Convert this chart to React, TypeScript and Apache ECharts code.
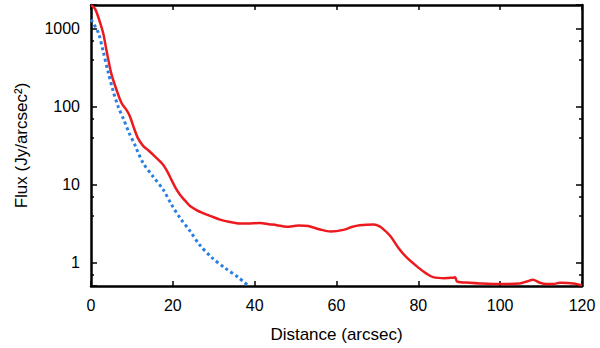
import React, { useEffect, useRef } from "react";
import * as echarts from "echarts";

const xTicks = [0, 20, 40, 60, 80, 100, 120];
const yDecadeLabels = [1, 10, 100, 1000];

const observedX = [0, 1, 2.2, 3, 3.8, 5, 6.3, 7.5, 8.7, 9.5, 10.5, 11.5, 12.8, 14, 15.6, 17, 17.7, 18.7, 19.7, 20.7, 21.75, 23, 24.2, 25.8, 27.4, 29.5, 31.5, 34, 36.4, 38.5, 41.3, 43.5, 45.4, 47.8, 50.7, 53.1, 56, 58.6, 61.7, 63.7, 65.7, 69, 70, 71, 73.1, 75.1, 77.15, 80, 82, 83.6, 86.5, 88.5, 89, 89.5, 92.6, 95, 100, 104.8, 106.5, 108, 109.7, 111.4, 113, 114.6, 117.9, 120];
const observedY = [2000, 1780, 1200, 860, 520, 260, 160, 110, 90, 75, 53, 39, 31, 27.5, 23, 19.5, 17.7, 14.5, 11.4, 9, 7.4, 6.2, 5.3, 4.7, 4.3, 3.9, 3.55, 3.3, 3.16, 3.17, 3.22, 3.1, 3.01, 2.87, 2.98, 2.93, 2.65, 2.5, 2.62, 2.85, 3.0, 3.07, 3.0, 2.8, 2.2, 1.55, 1.16, 0.86, 0.72, 0.65, 0.63, 0.64, 0.645, 0.57, 0.55, 0.54, 0.53, 0.54, 0.57, 0.6, 0.55, 0.53, 0.53, 0.55, 0.54, 0.51];

const psfX = [0, 1.8, 3, 4.2, 5.45, 6.7, 7.9, 9.3, 10.75, 11.2, 12.8, 15.2, 17.7, 19.7, 21.75, 24.2, 26.6, 29.5, 32.75, 36, 38.5];
const psfY = [1300, 880, 500, 275, 155, 98, 70, 46, 32, 28, 18.6, 12.6, 8.5, 5.5, 3.73, 2.53, 1.67, 1.16, 0.85, 0.645, 0.5];

const FONT = "'Liberation Sans', Arial, Helvetica, sans-serif";

export default function App() {
  const ref = useRef<HTMLDivElement>(null);
  useEffect(() => {
    if (!ref.current) return;
    const chart = echarts.init(ref.current, undefined, { renderer: "svg" });
    const axisLine = { show: true, onZero: false, lineStyle: { color: "#000", width: 2.5 } };
    const tickStyle = { color: "#000", width: 1.5 };
    const yLabelFmt = (v: number) => {
      const match = yDecadeLabels.find((d) => Math.abs(d - v) / d < 1e-6);
      return match !== undefined ? String(match) : "";
    };
    chart.setOption({
      animation: false,
      backgroundColor: "#fff",
      grid: { left: 91, right: 18, top: 5, bottom: 59, containLabel: false },
      xAxis: [
        {
          type: "value",
          min: xTicks[0],
          max: xTicks[xTicks.length - 1],
          interval: 20,
          position: "bottom",
          name: "Distance (arcsec)",
          nameLocation: "middle",
          nameGap: 40,
          nameTextStyle: { fontFamily: FONT, fontSize: 17, color: "#000" },
          axisLine,
          axisTick: { show: true, inside: true, length: 5, lineStyle: tickStyle },
          axisLabel: { fontFamily: FONT, fontSize: 16, color: "#000", margin: 11 },
          splitLine: { show: false },
        },
        {
          type: "value",
          min: xTicks[0],
          max: xTicks[xTicks.length - 1],
          interval: 20,
          position: "top",
          axisLine,
          axisTick: { show: true, inside: true, length: 5, lineStyle: tickStyle },
          axisLabel: { show: false },
          splitLine: { show: false },
        },
      ],
      yAxis: [
        {
          type: "log",
          logBase: 10,
          min: 0.5,
          max: 2000,
          position: "left",
          name: "Flux (Jy/arcsec²)",
          nameLocation: "middle",
          nameGap: 61,
          nameTextStyle: { fontFamily: FONT, fontSize: 17, color: "#000" },
          axisLine,
          axisTick: { show: true, inside: true, length: 6, lineStyle: tickStyle },
          minorTick: { show: true, splitNumber: 3, length: 3, lineStyle: tickStyle },
          axisLabel: { fontFamily: FONT, fontSize: 16, color: "#000", margin: 11, formatter: yLabelFmt, showMinLabel: false, showMaxLabel: false },
          splitLine: { show: false },
          minorSplitLine: { show: false },
        },
        {
          type: "log",
          logBase: 10,
          min: 0.5,
          max: 2000,
          position: "right",
          axisLine,
          axisTick: { show: true, inside: true, length: 6, lineStyle: tickStyle },
          minorTick: { show: true, splitNumber: 3, length: 3, lineStyle: tickStyle },
          axisLabel: { show: false },
          splitLine: { show: false },
          minorSplitLine: { show: false },
        },
      ],
      series: [
        {
          type: "line",
          name: "psf",
          data: psfX.map((x, i) => [x, psfY[i]]),
          showSymbol: false,
          smooth: 0.3,
          lineStyle: { color: "#2a7fe3", width: 3, type: [3, 3] },
          z: 2,
        },
        {
          type: "line",
          name: "observed",
          data: observedX.map((x, i) => [x, observedY[i]]),
          showSymbol: false,
          smooth: 0.3,
          lineStyle: { color: "#ec1a1f", width: 2.5 },
          z: 3,
        },
      ],
    });
    return () => chart.dispose();
  }, []);
  return <div ref={ref} style={{ width: 600, height: 348, position: "absolute", left: 0, top: 0 }} />;
}
